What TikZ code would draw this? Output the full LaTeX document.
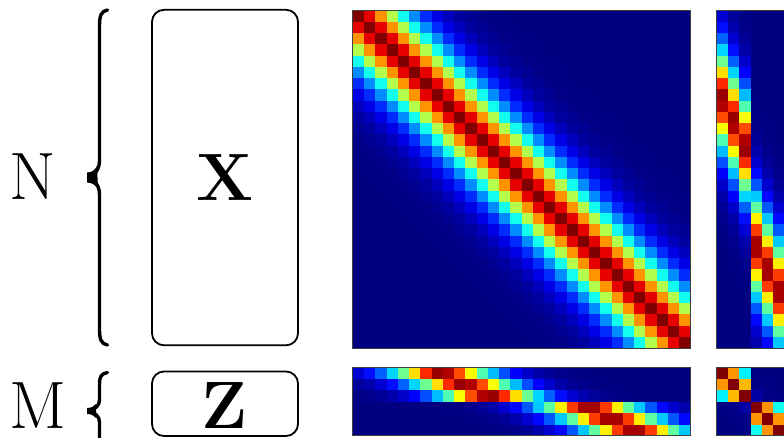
\documentclass[tikz,border=0pt]{standalone}
\usepackage{tikz}
\tikzset{
  mbox/.style={draw=black, line width=1.8pt, rounded corners=12pt, inner sep=0pt, outer sep=0pt, anchor=north west},
  brc/.style={line width=3.4pt, line cap=round, line join=round},
  lbl/.style={font=\fontsize{67}{70}\selectfont, inner sep=0pt, outer sep=0pt},
  mframe/.style={draw=black!75, line width=1pt, inner sep=0pt, outer sep=0pt, anchor=north west},
}
% one heat-map cell: x, y, width, height, distance
\newcommand\jetcell[5]{%
  \pgfmathsetmacro\jd{min(abs(#5)/4.2+0.01,4)}%
  \pgfmathsetmacro\jv{exp(-exp(1.6*ln(\jd)))}%
  \pgfmathsetmacro\jr{max(0,min(1,min(4*\jv-1.5,4.5-4*\jv)))}%
  \pgfmathsetmacro\jg{max(0,min(1,min(4*\jv-0.5,3.5-4*\jv)))}%
  \pgfmathsetmacro\jb{max(0,min(1,min(4*\jv+0.5,2.5-4*\jv)))}%
  \definecolor{jetc}{rgb}{\jr,\jg,\jb}%
  \fill[jetc] (#1,#2) rectangle ++(#3+0.4,#4+0.4);%
}
\begin{document}
\begin{tikzpicture}[x=1pt,y=-1pt]
\useasboundingbox (0,0) rectangle (784,438);
\clip (0,0) rectangle (784,438);

% ---- left: labels, braces, boxes
\node[lbl] (N) at (32.5,176.5) {N};
\node[lbl] (M) at (38,406) {M};
\node[mbox, minimum width=146pt, minimum height=335.5pt] (X) at (152,9.8) {};
\node[lbl, font=\fontsize{67}{70}\selectfont\bfseries] (Xl) at (X.center) {X};
\node[mbox, minimum width=146pt, minimum height=64.5pt] (Z) at (152,371.5) {};
\node[lbl, font=\fontsize{67}{70}\selectfont\bfseries] (Zl) at (225,406) {Z};

% brace for N
\draw[brc] (107.5,10) .. controls (101,11) and (99.5,16) .. (99.5,26)
  -- (99.5,160) .. controls (99.5,170) and (95,174) .. (88.5,177.5)
  .. controls (95,181) and (99.5,185) .. (99.5,195)
  -- (99.5,329) .. controls (99.5,339) and (101,344) .. (107.5,345);
\fill (87,172.5) .. controls (92,172.5) and (95,170) .. (97,166)
  -- (98,189) .. controls (95,185) and (92,182.5) .. (87,182.5) -- cycle;
% brace for M
\draw[brc] (107.5,372.5) .. controls (101,373.5) and (99.5,377) .. (99.5,384)
  -- (99.5,400) .. controls (99.5,406) and (95,409) .. (88.5,411)
  .. controls (95,413) and (99.5,416) .. (99.5,422)
  -- (99.5,438) .. controls (99.5,445) and (101,449) .. (107.5,450);
\fill (87,408) .. controls (91,408) and (94,406.5) .. (96,404)
  -- (96,418) .. controls (94,415.5) and (91,414) .. (87,414) -- cycle;

% ---- K_XX : 30 x 30
\foreach \i in {0,...,29}{
  \foreach \j in {0,...,29}{
    \jetcell{352.8+\j*11.25}{10.6+\i*11.25}{11.25}{11.25}{\i-\j}
  }
}
% ---- K_ZX : 6 x 30
\foreach \r/\zr in {0/7.4,1/9.4,2/11.6,3/20.5,4/22.5,5/24.5}{
  \foreach \j in {0,...,29}{
    \jetcell{352.8+\j*11.25}{367.5+\r*11.4}{11.25}{11.4}{\j-\zr}
  }
}
% ---- K_XZ : 30 x 6
\foreach \c/\zc in {0/7.4,1/9.4,2/11.6,3/20.5,4/22.5,5/24.5}{
  \foreach \i in {0,...,29}{
    \jetcell{716.8+\c*11.25}{10.6+\i*11.25}{11.25}{11.25}{\i-\zc}
  }
}
% ---- K_ZZ : 6 x 6
\foreach \r/\zr in {0/7.4,1/9.4,2/11.6,3/20.5,4/22.5,5/24.5}{
  \foreach \c/\zc in {0/7.4,1/9.4,2/11.6,3/20.5,4/22.5,5/24.5}{
    \jetcell{716.8+\c*11.25}{367.5+\r*11.4}{11.25}{11.4}{\zr-\zc}
  }
}

\node[mframe, minimum width=337.5pt, minimum height=337.5pt] (Kxx) at (352.8,10.6) {};
\node[mframe, minimum width=337.5pt, minimum height=68.4pt] (Kzx) at (352.8,367.5) {};
\node[mframe, minimum width=67.5pt, minimum height=337.5pt] (Kxz) at (716.8,10.6) {};
\node[mframe, minimum width=67.5pt, minimum height=68.4pt] (Kzz) at (716.8,367.5) {};
\end{tikzpicture}
\end{document}
